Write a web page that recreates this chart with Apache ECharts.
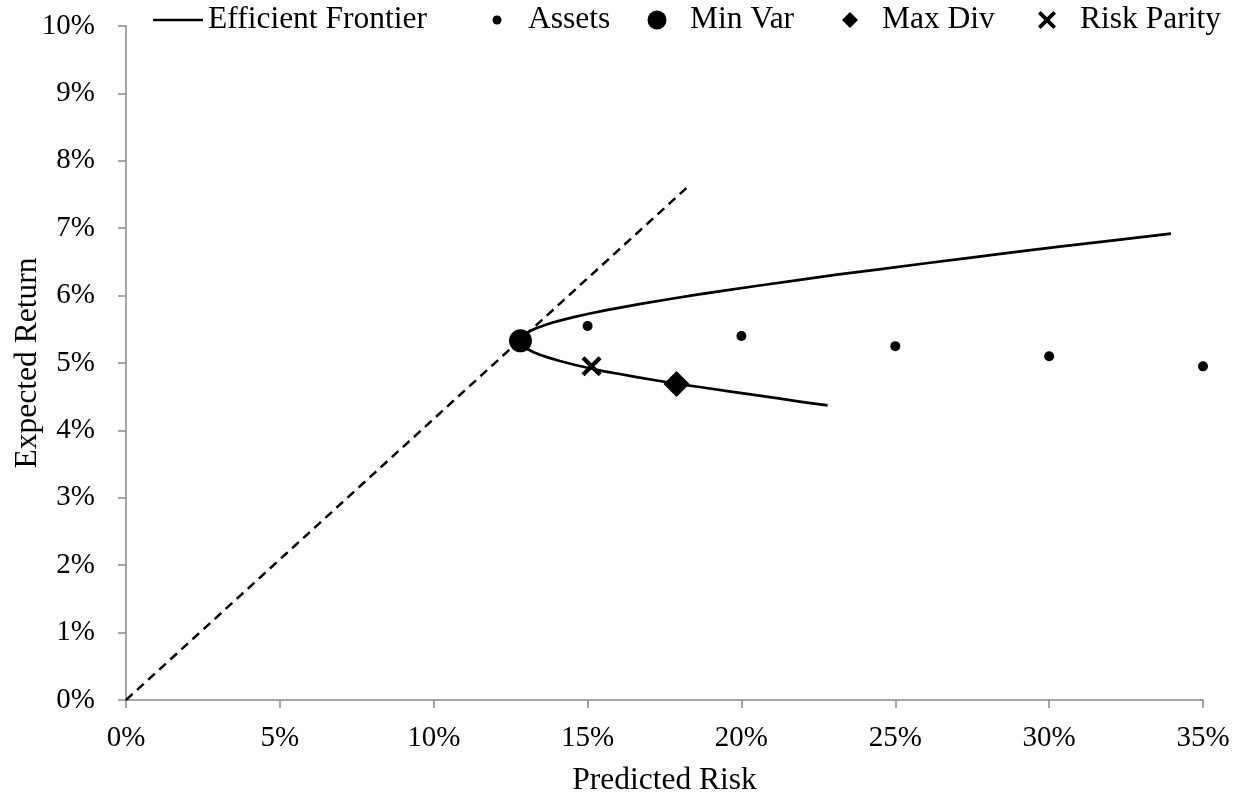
<!DOCTYPE html>
<html>
<head>
<meta charset="utf-8">
<style>
  html, body { margin: 0; padding: 0; background: #fff; }
  #chart { width: 1241px; height: 796px; }
</style>
<script src="https://cdn.jsdelivr.net/npm/echarts@6/dist/echarts.min.js"></script>
</head>
<body>
<div id="chart"></div>
<script>
// Risk (x, %) and expected return (y, %) pairs, lower branch first, then upper
const frontier = [
  [22.8, 4.37], [22.0, 4.42], [21.15, 4.48], [20.35, 4.53], [19.6, 4.58],
  [18.7, 4.64], [17.9, 4.69], [17.25, 4.74], [16.6, 4.79], [16.0, 4.84],
  [15.5, 4.88], [15.0, 4.93], [14.6, 4.97], [14.1, 5.03], [13.73, 5.08],
  [13.47, 5.12], [13.25, 5.16], [13.07, 5.20], [12.94, 5.24], [12.86, 5.28],
  [12.83, 5.31], [12.82, 5.33], [12.83, 5.36], [12.89, 5.40], [13.0, 5.44],
  [13.15, 5.48], [13.35, 5.52], [13.6, 5.56], [13.87, 5.60], [14.19, 5.64],
  [14.55, 5.68], [15.04, 5.73], [15.57, 5.78], [16.15, 5.83], [16.77, 5.88],
  [17.68, 5.95], [18.51, 6.01], [19.38, 6.07], [20.59, 6.15], [21.84, 6.23],
  [23.1, 6.31], [24.47, 6.39], [26.0, 6.48], [27.4, 6.56], [28.8, 6.64],
  [30.4, 6.73], [32.1, 6.82], [33.96, 6.92]
];
const tangentLine = [[0, 0], [18.27, 7.62]];
const assets = [[15, 5.55], [20, 5.40], [25, 5.25], [30, 5.10], [35, 4.95]];
const minVar = [[12.82, 5.33]];
const maxDiv = [[17.89, 4.69]];
const riskParity = [[15.13, 4.95]];

const xTicks = { min: 0, max: 35, interval: 5 };
const yTicks = { min: 0, max: 10, interval: 1 };

const FONT = 'Liberation Serif';
const AXIS_GREY = '#898989';
const diamondPath = 'path://M5,0 L10,5 L5,10 L0,5 Z';
const crossPath = 'path://M1.5,0 L5,3.5 L8.5,0 L10,1.5 L6.5,5 L10,8.5 L8.5,10 L5,6.5 L1.5,10 L0,8.5 L3.5,5 L0,1.5 Z';

const legendText = { fontFamily: FONT, fontSize: 31.5, color: '#000', lineHeight: 40 };
// left = icon's drawn left edge; text starts at icon centre + itemWidth / 2 + 5
function legendAt(name, left, w, h, icon) {
  return {
    data: [{ name: name, icon: icon }],
    left: left, top: 0, padding: 0,
    itemWidth: w, itemHeight: h,
    textStyle: legendText,
    selectedMode: false
  };
}

const solid = { color: '#000', opacity: 1 };

const chart = echarts.init(document.getElementById('chart'), null, { renderer: 'canvas' });
chart.setOption({
  animation: false,
  backgroundColor: '#fff',
  legend: [
    legendAt('Efficient Frontier', 153, 50, 2.5, 'rect'),
    legendAt('Assets', 492.5, 52, 9, 'circle'),
    legendAt('Min Var', 647.5, 56, 19, 'circle'),
    legendAt('Max Div', 842, 54, 16, diamondPath),
    legendAt('Risk Parity', 1038, 56, 18, crossPath)
  ],
  grid: { left: 126, right: 38, top: 26, bottom: 96, containLabel: false, outerBoundsMode: 'none' },
  xAxis: {
    type: 'value',
    min: xTicks.min, max: xTicks.max, interval: xTicks.interval,
    name: 'Predicted Risk', nameLocation: 'middle', nameGap: 65, nameMoveOverlap: false,
    nameTextStyle: { fontFamily: FONT, fontSize: 31.5, color: '#000' },
    axisLine: { lineStyle: { color: AXIS_GREY, width: 1.5 } },
    axisTick: { show: true, inside: false, length: 8, lineStyle: { color: AXIS_GREY, width: 1.5 } },
    axisLabel: { fontFamily: FONT, fontSize: 29, color: '#000', margin: 24, formatter: '{value}%' },
    splitLine: { show: false }
  },
  yAxis: {
    type: 'value',
    min: yTicks.min, max: yTicks.max, interval: yTicks.interval,
    name: 'Expected Return', nameLocation: 'middle', nameGap: 82, nameMoveOverlap: false,
    nameTextStyle: { fontFamily: FONT, fontSize: 31.5, color: '#000' },
    axisLine: { show: true, lineStyle: { color: AXIS_GREY, width: 1.5 } },
    axisTick: { show: true, inside: false, length: 8, lineStyle: { color: AXIS_GREY, width: 1.5 } },
    axisLabel: { fontFamily: FONT, fontSize: 29, color: '#000', margin: 31, formatter: '{value}%' },
    splitLine: { show: false }
  },
  series: [
    {
      name: 'Tangent', type: 'line', data: tangentLine,
      symbol: 'none', silent: true, z: 2,
      lineStyle: { color: '#000', width: 2.5, type: [9, 6] }
    },
    {
      name: 'Efficient Frontier', type: 'line', data: frontier,
      symbol: 'none', smooth: false, z: 3,
      color: '#000',
      lineStyle: { color: '#000', width: 2.7, join: 'round' }
    },
    {
      name: 'Assets', type: 'scatter', data: assets,
      symbol: 'circle', symbolSize: 10, z: 4,
      itemStyle: solid
    },
    {
      name: 'Min Var', type: 'scatter', data: minVar,
      symbol: 'circle', symbolSize: 23, z: 5,
      itemStyle: solid
    },
    {
      name: 'Max Div', type: 'scatter', data: maxDiv,
      symbol: diamondPath, symbolSize: 26, z: 5,
      itemStyle: solid
    },
    {
      name: 'Risk Parity', type: 'scatter', data: riskParity,
      symbol: crossPath, symbolSize: 20, z: 5,
      itemStyle: solid
    }
  ]
});
</script>
</body>
</html>
